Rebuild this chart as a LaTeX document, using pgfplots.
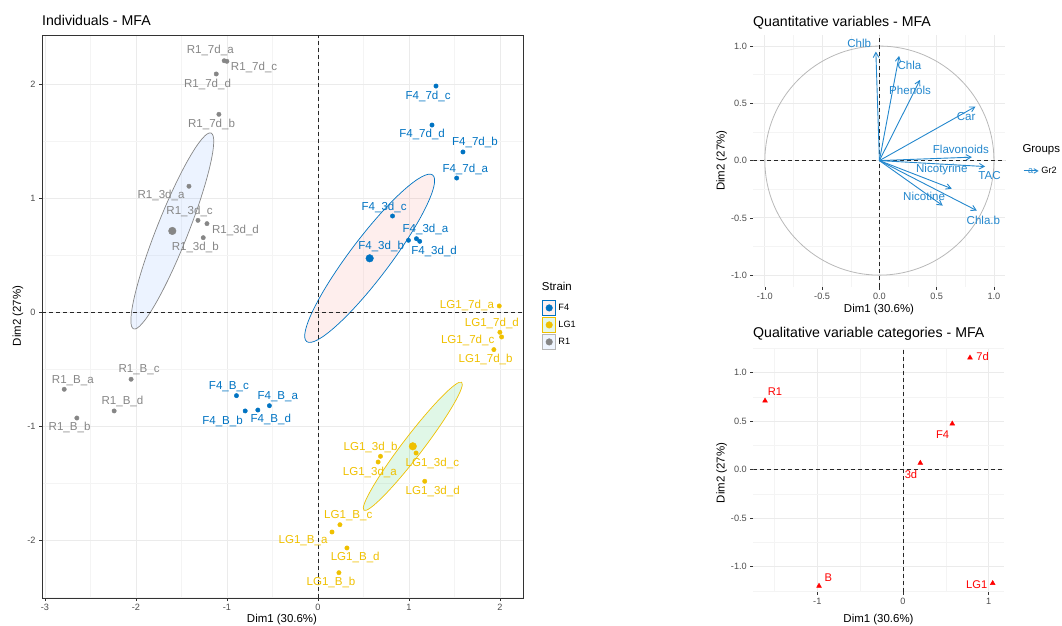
\documentclass[border=0pt]{standalone}
\usepackage{pgfplots}
\pgfplotsset{compat=1.18}
\usetikzlibrary{arrows.meta}
\usepackage{fontspec}
\setmainfont{Liberation Sans}
\definecolor{cF}{HTML}{0073C2}
\definecolor{cL}{HTML}{EFC000}
\definecolor{cR}{HTML}{868686}
\definecolor{eF}{HTML}{F8766D}
\definecolor{eL}{HTML}{00BA38}
\definecolor{eR}{HTML}{619CFF}
\definecolor{cV}{HTML}{2387CD}
\definecolor{tk}{HTML}{4D4D4D}
\definecolor{gmaj}{HTML}{EBEBEB}
\definecolor{gmin}{HTML}{F4F4F4}
\definecolor{frm}{HTML}{333333}
\definecolor{circ}{HTML}{B8B8B8}
\newcommand\fT{\fontsize{14.2}{16}\selectfont}
\newcommand\fL{\fontsize{11.6}{13}\selectfont}
\newcommand\fA{\fontsize{11.5}{13}\selectfont}
\newcommand\fK{\fontsize{9.2}{10}\selectfont}
\pgfplotsset{
  common/.style={
    scale only axis, anchor=south west,
    grid=both,
    major grid style={draw=gmaj, line width=0.8bp},
    minor grid style={draw=gmin, line width=0.5bp},
    tick align=outside, tick pos=left,
    major tick length=3bp, minor tick length=0pt,
    tick style={draw=frm, line width=0.7bp},
    ticklabel style={font=\fK, text=tk},
    /pgf/number format/assume math mode=true,
  },
  zl/.style={black!85, line width=0.9bp, dash pattern=on 4bp off 3bp, forget plot},
}
\begin{document}
\begin{tikzpicture}
\useasboundingbox (0,0) rectangle (1062bp,626bp);
% titles
\node[anchor=base west, inner sep=0, font=\fT] at (42bp,600bp) {Individuals - MFA};
\node[anchor=base west, inner sep=0, font=\fT] at (753bp,599.3bp) {Quantitative variables - MFA};
\node[anchor=base west, inner sep=0, font=\fT] at (753bp,288.2bp) {Qualitative variable categories - MFA};
% axis labels
\node[font=\fA] at (282bp,6bp) {Dim1 (30.6\%)};
\node[font=\fA, rotate=90] at (18bp,310bp) {Dim2 (27\%)};
\node[font=\fA] at (879bp,316bp) {Dim1 (30.6\%)};
\node[font=\fA, rotate=90] at (721.7bp,465.3bp) {Dim2 (27\%)};
\node[font=\fA] at (878.5bp,6bp) {Dim1 (30.6\%)};
\node[font=\fA, rotate=90] at (721.7bp,153bp) {Dim2 (27\%)};
% legend titles
\node[anchor=west, inner sep=0, font=\fA] at (541.7bp,340bp) {Strain};
\node[anchor=west, inner sep=0, font=\fA] at (1022.3bp,476.7bp) {Groups};

%================ Panel 1 =================
\begin{axis}[common,
  at={(42bp,28bp)}, width=481bp, height=563bp,
  xmin=-3.033, xmax=2.253, ymin=-2.509, ymax=2.430,
  xtick={-3,-2,-1,0,1,2}, xticklabels={-3,-2,-1,0,1,2},
  ytick={-2,-1,0,1,2}, yticklabels={-2,-1,0,1,2},
  minor xtick={-2.5,-1.5,-0.5,0.5,1.5}, minor ytick={-2.5,-1.5,-0.5,0.5,1.5},
  axis line style={draw=frm, line width=0.9bp},
  legend style={at={(1.039,0.5305)}, anchor=north west, draw=none, fill=none,
    inner sep=0pt, font=\fK, row sep=0.2bp,
    /tikz/every even column/.append style={column sep=4bp}},
  legend cell align=left,
]
% ellipses
\draw[draw=cR, line width=0.7bp, fill=eR, fill opacity=0.12, rotate around={68.4:(axis cs:-1.601,0.711)}]
  (axis cs:-1.601,0.711) ellipse [x radius=105.3bp, y radius=15.7bp];
\draw[draw=cF, line width=0.7bp, fill=eF, fill opacity=0.12, rotate around={52.9:(axis cs:0.568,0.471)}]
  (axis cs:0.568,0.471) ellipse [x radius=104.4bp, y radius=20bp];
\draw[draw=cL, line width=0.7bp, fill=eL, fill opacity=0.12, rotate around={52.6:(axis cs:1.042,-1.178)}]
  (axis cs:1.042,-1.178) ellipse [x radius=80.5bp, y radius=10bp];
% reference lines
\addplot[zl] coordinates {(0,-2.509) (0,2.430)};
\addplot[zl] coordinates {(-3.033,0) (2.253,0)};
% points
\addplot[only marks, mark=*, mark size=2.2bp, color=cF,
  legend image code/.code={\draw[draw=cF, line width=1.2bp, fill=eF!10] (0bp,-7.8bp) rectangle (13.3bp,7.8bp);
    \fill[cF] (6.65bp,0bp) circle (3.3bp);}]
  coordinates {(1.297,1.982) (1.253,1.640) (1.593,1.404) (1.524,1.175) (0.819,0.842) (1.082,0.643)
  (1.118,0.620) (0.994,0.629) (-0.896,-0.734) (-0.534,-0.822) (-0.661,-0.860) (-0.800,-0.868)};
\addlegendentry{F4}
\addplot[only marks, mark=*, mark size=2.2bp, color=cL,
  legend image code/.code={\draw[draw=cL, line width=1.2bp, fill=eL!10] (0bp,-7.8bp) rectangle (13.3bp,7.8bp);
    \fill[cL] (6.65bp,0bp) circle (3.3bp);}]
  coordinates {(1.992,0.053) (1.999,-0.178) (2.018,-0.219) (1.933,-0.330) (0.687,-1.266) (0.661,-1.316)
  (1.078,-1.237) (1.173,-1.485) (0.241,-1.866) (0.154,-1.930) (0.318,-2.070) (0.230,-2.287)};
\addlegendentry{LG1}
\addplot[only marks, mark=*, mark size=2.2bp, color=cR,
  legend image code/.code={\draw[draw=cR!60, line width=1.2bp, fill=eR!10] (0bp,-7.8bp) rectangle (13.3bp,7.8bp);
    \fill[cR] (6.65bp,0bp) circle (3.3bp);}]
  coordinates {(-1.031,2.204) (-1.001,2.199) (-1.118,2.088) (-1.089,1.734) (-1.418,1.103) (-1.319,0.804)
  (-1.220,0.775) (-1.261,0.652) (-2.789,-0.678) (-2.054,-0.590) (-2.240,-0.868) (-2.650,-0.930)};
\addlegendentry{R1}
% centroids
\addplot[only marks, mark=*, mark size=3.8bp, color=cF, forget plot] coordinates {(0.568,0.471)};
\addplot[only marks, mark=*, mark size=3.8bp, color=cL, forget plot] coordinates {(1.042,-1.178)};
\addplot[only marks, mark=*, mark size=3.8bp, color=cR, forget plot] coordinates {(-1.601,0.711)};
% labels R1
\begin{scope}[every node/.style={font=\fL, text=cR}]
\node at (axis cs:-1.184,2.292) {R1\_7d\_a};
\node at (axis cs:-0.702,2.143) {R1\_7d\_c};
\node at (axis cs:-1.214,1.997) {R1\_7d\_d};
\node at (axis cs:-1.170,1.643) {R1\_7d\_b};
\node at (axis cs:-1.725,1.026) {R1\_3d\_a};
\node at (axis cs:-1.411,0.886) {R1\_3d\_c};
\node at (axis cs:-0.907,0.711) {R1\_3d\_d};
\node at (axis cs:-1.349,0.564) {R1\_3d\_b};
\node at (axis cs:-2.694,-0.599) {R1\_B\_a};
\node at (axis cs:-1.966,-0.509) {R1\_B\_c};
\node at (axis cs:-2.149,-0.789) {R1\_B\_d};
\node at (axis cs:-2.730,-1.015) {R1\_B\_b};
\end{scope}
\begin{scope}[every node/.style={font=\fL, text=cF}]
\node at (axis cs:1.210,1.892) {F4\_7d\_c};
\node at (axis cs:1.144,1.556) {F4\_7d\_d};
\node at (axis cs:1.725,1.485) {F4\_7d\_b};
\node at (axis cs:1.619,1.252) {F4\_7d\_a};
\node at (axis cs:0.727,0.921) {F4\_3d\_c};
\node at (axis cs:1.181,0.722) {F4\_3d\_a};
\node at (axis cs:1.276,0.535) {F4\_3d\_d};
\node at (axis cs:0.694,0.573) {F4\_3d\_b};
\node at (axis cs:-0.979,-0.658) {F4\_B\_c};
\node at (axis cs:-0.442,-0.746) {F4\_B\_a};
\node at (axis cs:-0.519,-0.947) {F4\_B\_d};
\node at (axis cs:-1.049,-0.956) {F4\_B\_b};
\end{scope}
\begin{scope}[every node/.style={font=\fL, text=cL}]
\node at (axis cs:1.637,0.053) {LG1\_7d\_a};
\node at (axis cs:1.911,-0.099) {LG1\_7d\_d};
\node at (axis cs:1.645,-0.248) {LG1\_7d\_c};
\node at (axis cs:1.842,-0.418) {LG1\_7d\_b};
\node at (axis cs:0.578,-1.187) {LG1\_3d\_b};
\node at (axis cs:0.570,-1.404) {LG1\_3d\_a};
\node at (axis cs:1.257,-1.325) {LG1\_3d\_c};
\node at (axis cs:1.261,-1.570) {LG1\_3d\_d};
\node at (axis cs:0.333,-1.787) {LG1\_B\_c};
\node at (axis cs:-0.164,-2.009) {LG1\_B\_a};
\node at (axis cs:0.409,-2.152) {LG1\_B\_d};
\node at (axis cs:0.143,-2.374) {LG1\_B\_b};
\end{scope}
\end{axis}

%================ Panel 2 =================
\begin{axis}[common,
  at={(753.4bp,339.4bp)}, width=252bp, height=252bp,
  xmin=-1.1, xmax=1.1, ymin=-1.1, ymax=1.1,
  xtick={-1,-0.5,0,0.5,1}, xticklabels={-1.0,-0.5,0.0,0.5,1.0},
  ytick={-1,-0.5,0,0.5,1}, yticklabels={-1.0,-0.5,0.0,0.5,1.0},
  minor xtick={-0.75,-0.25,0.25,0.75}, minor ytick={-0.75,-0.25,0.25,0.75},
  axis line style={draw=none},
  legend style={at={(1.07,0.459)}, anchor=west, draw=none, fill=none, inner sep=0pt, font=\fK,
    /tikz/every even column/.append style={column sep=2bp}},
]
\draw[draw=circ, line width=0.8bp] (axis cs:0,0) circle [radius=1];
\addplot[zl] coordinates {(0,-1.1) (0,1.1)};
\addplot[zl] coordinates {(-1.1,0) (1.1,0)};
\pgfplotsset{arr/.style={cV, line width=0.9bp, -{Straight Barb[length=5bp,width=5.5bp]}}}
\addplot[arr, legend image code/.code={
    \draw[cV, line width=0.9bp, -{Straight Barb[length=4bp,width=4.5bp]}] (0bp,0bp) -- (15bp,0bp);
    \node[text=cV, font=\fontsize{9}{9}\selectfont, inner sep=0pt] at (7bp,-1.2bp) {a};}]
  coordinates {(0,0) (-0.031,0.952)};
\addlegendentry{Gr2}
\addplot[arr, forget plot] coordinates {(0,0) (0.172,0.914)};
\addplot[arr, forget plot] coordinates {(0,0) (0.355,0.705)};
\addplot[arr, forget plot] coordinates {(0,0) (0.839,0.472)};
\addplot[arr, forget plot] coordinates {(0,0) (0.807,0.030)};
\addplot[arr, forget plot] coordinates {(0,0) (0.923,-0.052)};
\addplot[arr, forget plot] coordinates {(0,0) (0.632,-0.245)};
\addplot[arr, forget plot] coordinates {(0,0) (0.553,-0.393)};
\addplot[arr, forget plot] coordinates {(0,0) (0.851,-0.437)};
\begin{scope}[every node/.style={font=\fL, text=cV}]
\node at (axis cs:-0.177,1.025) {Chlb};
\node at (axis cs:0.262,0.833) {Chla};
\node at (axis cs:0.268,0.611) {Phenols};
\node at (axis cs:0.757,0.384) {Car};
\node at (axis cs:0.711,0.102) {Flavonoids};
\node at (axis cs:0.961,-0.134) {TAC};
\node at (axis cs:0.545,-0.081) {Nicotyrine};
\node at (axis cs:0.390,-0.314) {Nicotine};
\node at (axis cs:0.908,-0.518) {Chla.b};
\end{scope}
\end{axis}

%================ Panel 3 =================
\begin{axis}[common,
  at={(753.3bp,34.3bp)}, width=250.7bp, height=243.4bp,
  xmin=-1.747, xmax=1.179, ymin=-1.258, ymax=1.252,
  xtick={-1,0,1}, xticklabels={-1,0,1},
  ytick={-1,-0.5,0,0.5,1}, yticklabels={-1.0,-0.5,0.0,0.5,1.0},
  minor xtick={-1.5,-0.5,0.5}, minor ytick={-1.25,-0.75,-0.25,0.25,0.75,1.25},
  axis line style={draw=none},
]
\addplot[zl] coordinates {(0,-1.258) (0,1.252)};
\addplot[zl] coordinates {(-1.747,0) (1.179,0)};
\addplot[only marks, mark=triangle*, mark size=2.8bp, color=red]
  coordinates {(-1.610,0.711) (0.782,1.155) (0.575,0.474) (0.202,0.069) (-0.980,-1.199) (1.047,-1.171)};
\begin{scope}[every node/.style={font=\fontsize{11.2}{13}\selectfont, text=red}]
\node at (axis cs:-1.494,0.804) {R1};
\node at (axis cs:0.930,1.172) {7d};
\node at (axis cs:0.463,0.365) {F4};
\node at (axis cs:0.093,-0.052) {3d};
\node at (axis cs:-0.872,-1.116) {B};
\node at (axis cs:0.860,-1.189) {LG1};
\end{scope}
\end{axis}
\end{tikzpicture}
\end{document}
